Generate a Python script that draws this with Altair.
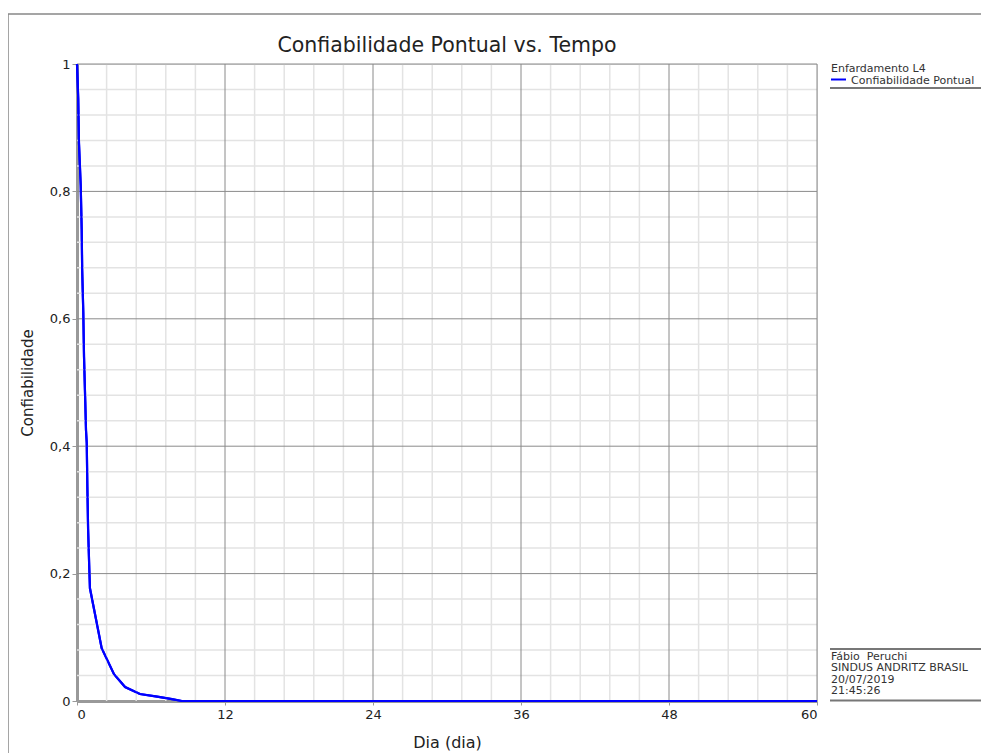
import altair as alt
import pandas as pd

# Curve values
dias = [0, 0.1, 0.16, 0.3, 0.38, 0.42, 0.51, 0.57, 0.67, 0.73, 0.79, 0.84, 0.9, 1.0, 1.05,
        2.0, 3.0, 3.9, 5.1, 6.5, 7.7, 8.5, 12, 24, 36, 48, 60]
confiab = [1.0, 0.945, 0.876, 0.81, 0.74, 0.677, 0.61, 0.54, 0.47, 0.425, 0.405, 0.336, 0.27, 0.206, 0.177,
           0.083, 0.042, 0.022, 0.011, 0.007, 0.003, 0.0, 0, 0, 0, 0, 0]

x_major = [0, 12, 24, 36, 48, 60]
y_major = [0, 0.2, 0.4, 0.6, 0.8, 1.0]
x_minor = [m + k * 2.4 for m in x_major[:-1] for k in (1, 2, 3, 4)]
y_minor = [round(m + k * 0.04, 3) for m in y_major[:-1] for k in (1, 2, 3, 4)]

legend_title = "Enfardamento L4"
legend_item = "Confiabilidade Pontual"
footer_lines = ["Fábio\u00a0\u00a0Peruchi", "SINDUS ANDRITZ BRASIL", "20/07/2019", "21:45:26"]

FONT = "DejaVu Sans"
W, H = 740, 637

df = pd.DataFrame({"t": dias, "r": confiab})
xs = alt.Scale(domain=[0, 60], nice=False, zero=False)
ys = alt.Scale(domain=[0, 1], nice=False)

ylabel = "datum.value == 0 ? '0' : datum.value == 1 ? '1' : replace(format(datum.value, '.1f'), '.', ',')"

xaxis = alt.Axis(values=x_major, grid=False, labelFont=FONT, labelFontSize=13,
                 labelColor="#222", titleFont=FONT, titleFontSize=16,
                 titleFontWeight="normal", titleColor="#222", titlePadding=13,
                 domainColor="#999", domainWidth=3, tickColor="#999", tickSize=4,
                 labelPadding=3, format="d", zindex=0)
yaxis = alt.Axis(values=y_major, grid=False, labelFont=FONT, labelFontSize=13,
                 labelColor="#222", titleFont=FONT, titleFontSize=15,
                 titleFontWeight="normal", titleColor="#222", titlePadding=14,
                 domainColor="#999", domainWidth=3, tickColor="#999", tickSize=5,
                 labelPadding=2, labelExpr=ylabel, zindex=0)


def X():
    return alt.X("t:Q", scale=xs, title="Dia (dia)", axis=xaxis)


def Y():
    return alt.Y("r:Q", scale=ys, title="Confiabilidade", axis=yaxis)


frame = alt.Chart(pd.DataFrame({"a": [0]})).mark_rect(
    fill="white", fillOpacity=0, stroke="#888", strokeWidth=1.5
).encode(x=alt.value(-69), x2=alt.value(1200), y=alt.value(-50), y2=alt.value(1000))

minor_x = alt.Chart(pd.DataFrame({"t": x_minor})).mark_rule(color="#e3e3e3", strokeWidth=1.5).encode(x=X())
minor_y = alt.Chart(pd.DataFrame({"r": y_minor})).mark_rule(color="#e3e3e3", strokeWidth=1.5).encode(y=Y())
major_x = alt.Chart(pd.DataFrame({"t": x_major[1:]})).mark_rule(color="#8a8a8a", strokeWidth=1).encode(x=X())
major_y = alt.Chart(pd.DataFrame({"r": y_major[1:]})).mark_rule(color="#8a8a8a", strokeWidth=1).encode(y=Y())

line = alt.Chart(df).mark_line(color="#0000ff", strokeWidth=2.2).encode(x=X(), y=Y())

title = alt.Chart(pd.DataFrame({"s": ["Confiabilidade Pontual vs. Tempo"]})).mark_text(
    font=FONT, fontSize=20.5, color="#222", align="center", baseline="alphabetic"
).encode(text="s:N", x=alt.value(W / 2), y=alt.value(-12))

lx = 831 - 77
leg_t = alt.Chart(pd.DataFrame({"s": [legend_title]})).mark_text(
    font=FONT, fontSize=11, color="#333", align="left", baseline="alphabetic"
).encode(text="s:N", x=alt.value(lx), y=alt.value(72 - 64))
leg_i = alt.Chart(pd.DataFrame({"s": [legend_item]})).mark_text(
    font=FONT, fontSize=11, color="#333", align="left", baseline="alphabetic"
).encode(text="s:N", x=alt.value(lx + 20), y=alt.value(83.5 - 64))
leg_line = alt.Chart(pd.DataFrame({"a": [0]})).mark_rule(color="#0000ff", strokeWidth=2).encode(
    x=alt.value(lx), x2=alt.value(lx + 15), y=alt.value(79.5 - 64))
leg_under = alt.Chart(pd.DataFrame({"a": [0]})).mark_rule(color="#777", strokeWidth=2).encode(
    x=alt.value(lx - 1), x2=alt.value(987 - 77), y=alt.value(88 - 64))

foot_layers = []
for i, s in enumerate(footer_lines):
    foot_layers.append(
        alt.Chart(pd.DataFrame({"s": [s]})).mark_text(
            font=FONT, fontSize=11, color="#333", align="left", baseline="alphabetic"
        ).encode(text="s:N", x=alt.value(lx), y=alt.value(660 - 64 + i * 11.3))
    )
foot_top = alt.Chart(pd.DataFrame({"a": [0]})).mark_rule(color="#777", strokeWidth=2).encode(
    x=alt.value(lx - 1), x2=alt.value(987 - 77), y=alt.value(649 - 64))
foot_bot = alt.Chart(pd.DataFrame({"a": [0]})).mark_rule(color="#777", strokeWidth=2).encode(
    x=alt.value(lx - 1), x2=alt.value(987 - 77), y=alt.value(700.5 - 64))

chart = alt.layer(
    line, frame, minor_x, minor_y, major_x, major_y, line, title,
    leg_t, leg_i, leg_line, leg_under, foot_top, foot_bot, *foot_layers
).properties(
    width=W, height=H,
    autosize=alt.AutoSizeParams(type="none"),
    padding={"left": 69, "top": 56, "right": 164, "bottom": 52},
).configure_view(stroke=None).configure(background="white")

chart.save("out.html", embed_options={"renderer": "svg", "actions": False})
